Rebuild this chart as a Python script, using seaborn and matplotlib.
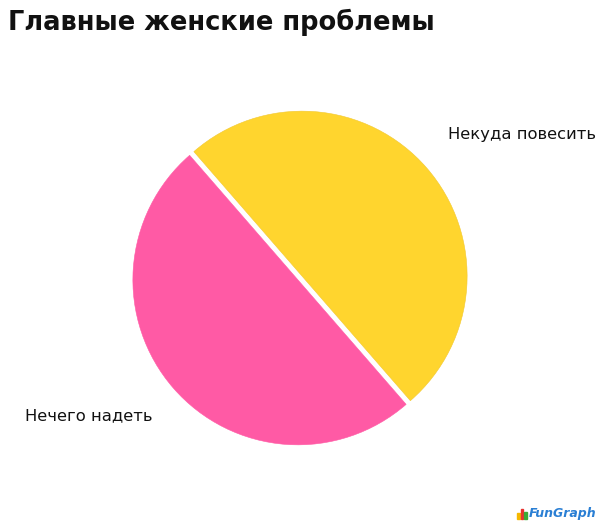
import matplotlib
matplotlib.use('Agg')
import matplotlib.pyplot as plt
import seaborn as sns
from matplotlib.patches import Rectangle

sns.set_style('white')
plt.rcParams['font.family'] = ['DejaVu Sans']

title = 'Главные женские проблемы'
labels = ['Некуда повесить', 'Нечего надеть']
values = [50, 50]
colors = ['#FFD52E', '#FF5AA5']

fig = plt.figure(figsize=(6, 5.29), dpi=100)
ax = fig.add_axes([130 / 600, (529 - 278 - 170) / 529, 340 / 600, 340 / 529])

wedges, _ = ax.pie(values, colors=colors, startangle=-49, counterclock=True,
                   explode=[0.017, 0.017], radius=1.0,
                   wedgeprops=dict(edgecolor='#F2C830', linewidth=0.4))
wedges[1].set_edgecolor('#FF5AA5')
lim = 170 / 165
ax.set_xlim(-lim, lim)
ax.set_ylim(-lim, lim)
ax.set_aspect('equal')
ax.axis('off')

fig.text(448 / 600, 1 - 135 / 529, labels[0], fontsize=11.8, va='center', ha='left', color='#111111')
fig.text(25 / 600, 1 - 416 / 529, labels[1], fontsize=11.8, va='center', ha='left', color='#111111')

fig.text(8 / 600, 1 - 22 / 529, title, fontsize=18.5, fontweight='bold',
         va='center', ha='left', color='#111111')

# logo
for i, (h, c) in enumerate(zip([6, 10, 7], ['#F5B800', '#E8322E', '#3BAA35'])):
    fig.patches.append(Rectangle(((517 + i * 3.5) / 600, (529 - 519) / 529), 2.5 / 600, h / 529,
                                 transform=fig.transFigure, color=c))
fig.text(529 / 600, 1 - 514 / 529, 'FunGraph', fontsize=9, fontweight='bold',
         color='#2A7FD4', va='center', ha='left', style='italic')

fig.savefig('out.png', dpi=100, facecolor='white')
